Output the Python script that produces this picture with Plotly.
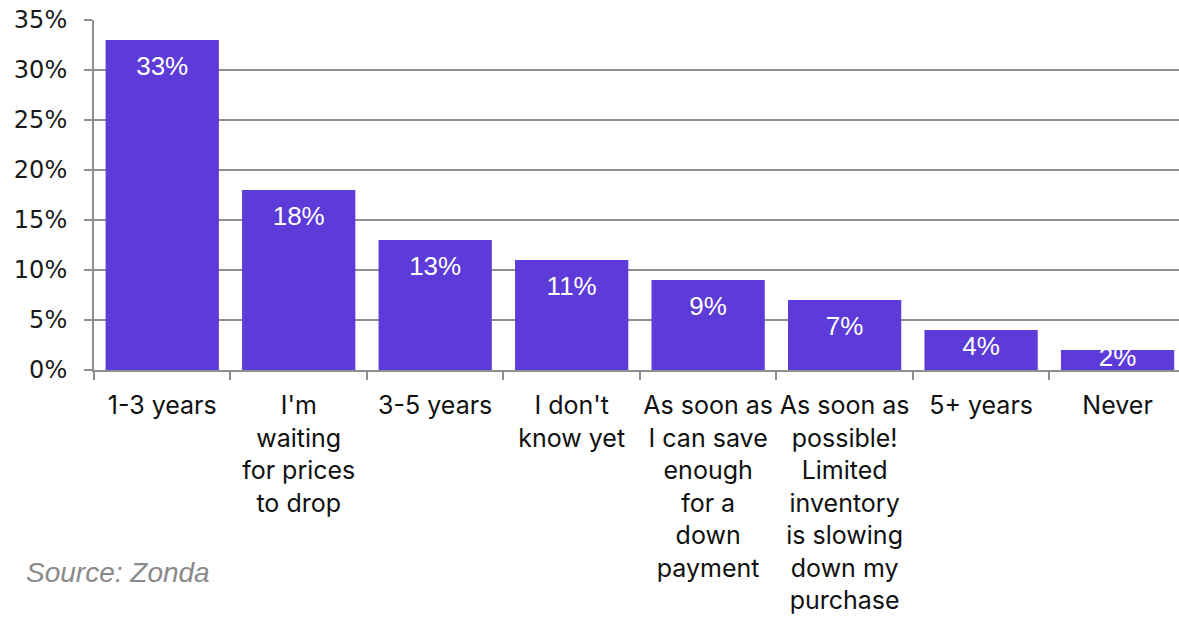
import plotly.graph_objects as go

# Survey answers: when do you plan to buy a home?
categories = [
    "1-3 years",
    "I'm<br>waiting<br>for prices<br>to drop",
    "3-5 years",
    "I don't<br>know yet",
    "As soon as<br>I can save<br>enough<br>for a<br>down<br>payment",
    "As soon as<br>possible!<br>Limited<br>inventory<br>is slowing<br>down my<br>purchase",
    "5+ years",
    "Never",
]
shares = [33, 18, 13, 11, 9, 7, 4, 2]
y_ticks = [0, 5, 10, 15, 20, 25, 30, 35]

BAR = "#5c3bd8"
GRID = "#8f8f8f"


def label_y(v):
    # value labels sit a little below the top of each bar
    return v - min(2.8, 0.45 * v)


fig = go.Figure()
fig.add_trace(go.Bar(
    x=categories, y=shares,
    marker=dict(color=BAR, line=dict(width=0)),
    width=0.83,
    hoverinfo="skip",
))
fig.add_trace(go.Scatter(
    x=categories, y=[label_y(v) for v in shares],
    mode="text",
    text=[f"{v}%" for v in shares],
    textposition="middle center",
    textfont=dict(family="Liberation Sans, Arial, sans-serif", size=26, color="white"),
    cliponaxis=False,
    hoverinfo="skip",
))

fig.add_annotation(
    text="<i>Source: Zonda</i>",
    xref="paper", yref="paper", x=0, y=0,
    xanchor="left", yanchor="middle",
    xshift=-70, yshift=-202,
    showarrow=False,
    font=dict(family="Liberation Sans, Arial, sans-serif", size=28, color="#8a8a8a"),
)

fig.update_layout(
    width=1179, height=617,
    margin=dict(l=94, r=0, t=20, b=247),
    paper_bgcolor="white", plot_bgcolor="white",
    showlegend=False,
    bargap=0.17,
)
fig.update_xaxes(
    type="category",
    range=[-0.5, 7.45],
    tickson="boundaries",
    tickangle=0,
    automargin=False,
    ticks="outside", ticklen=8, tickwidth=2, tickcolor=GRID,
    showline=True, linecolor=GRID, linewidth=2,
    showgrid=False,
    tickfont=dict(family="Inter, sans-serif", size=25, color="#111111"),
    ticklabelstandoff=12,
)
fig.update_yaxes(
    range=[0, 35],
    automargin=False,
    tickvals=y_ticks,
    ticktext=[f"{t}%" for t in y_ticks],
    ticks="outside", ticklen=8, tickwidth=2, tickcolor=GRID,
    showline=True, linecolor=GRID, linewidth=2,
    showgrid=True, gridcolor=GRID, gridwidth=2,
    zeroline=False,
    tickfont=dict(family="DejaVu Sans, sans-serif", size=24, color="#1a1a1a"),
    ticklabelstandoff=12,
)

fig.write_html("out.html")
